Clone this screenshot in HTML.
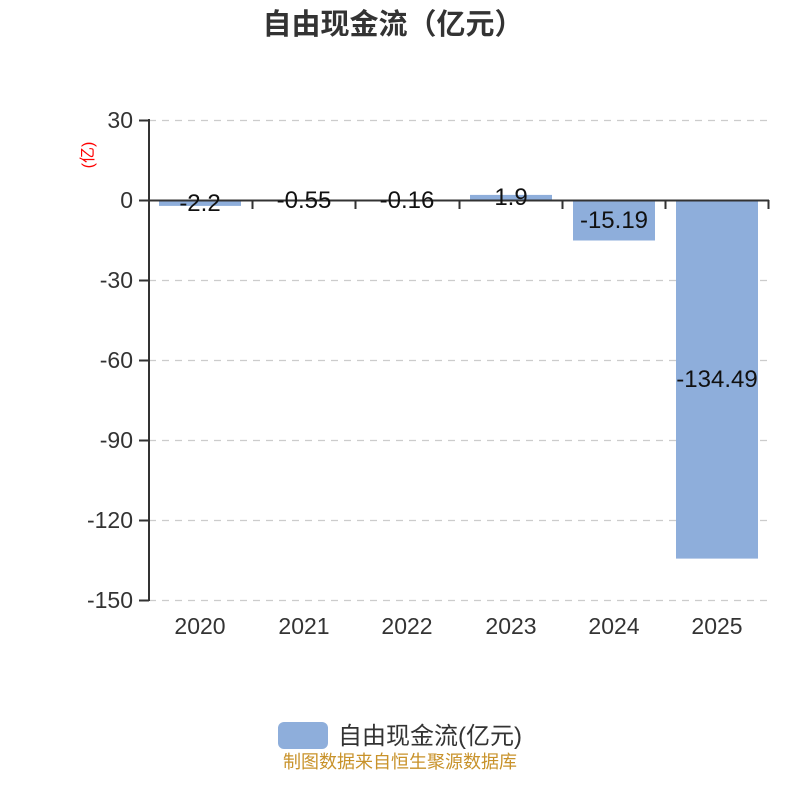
<!DOCTYPE html>
<html><head><meta charset="utf-8"><style>
body{margin:0;background:#fff}
svg text{font-family:"Liberation Sans","Noto Sans CJK SC",sans-serif}
</style></head><body>
<svg width="800" height="800" viewBox="0 0 800 800" xmlns="http://www.w3.org/2000/svg">
<text x="393" y="34" text-anchor="middle" font-size="29" font-weight="bold" fill="#333">自由现金流（亿元）</text>
<g stroke="#ccc" stroke-width="1.3" stroke-dasharray="7,6">
<line x1="149" y1="120.5" x2="769" y2="120.5"/>
<line x1="149" y1="280.5" x2="769" y2="280.5"/>
<line x1="149" y1="360.5" x2="769" y2="360.5"/>
<line x1="149" y1="440.5" x2="769" y2="440.5"/>
<line x1="149" y1="520.5" x2="769" y2="520.5"/>
<line x1="149" y1="600.5" x2="769" y2="600.5"/>
</g>
<g fill="#8eaedb">
<rect x="159" y="200" width="82" height="5.9"/>
<rect x="263" y="200" width="82" height="1.5"/>
<rect x="366" y="200" width="82" height="0.6"/>
<rect x="470" y="194.9" width="82" height="5.1"/>
<rect x="573" y="200" width="82" height="40.5"/>
<rect x="676" y="200" width="82" height="358.6"/>
</g>
<g stroke="#333" stroke-width="2" fill="none">
<line x1="149" y1="119" x2="149" y2="601"/>
<line x1="139" y1="120.5" x2="149" y2="120.5"/>
<line x1="139" y1="200.5" x2="149" y2="200.5"/>
<line x1="139" y1="280.5" x2="149" y2="280.5"/>
<line x1="139" y1="360.5" x2="149" y2="360.5"/>
<line x1="139" y1="440.5" x2="149" y2="440.5"/>
<line x1="139" y1="520.5" x2="149" y2="520.5"/>
<line x1="139" y1="600.5" x2="149" y2="600.5"/>
<line x1="149" y1="200.5" x2="769" y2="200.5"/>
<line x1="252.5" y1="200" x2="252.5" y2="209"/>
<line x1="355.5" y1="200" x2="355.5" y2="209"/>
<line x1="459.5" y1="200" x2="459.5" y2="209"/>
<line x1="562.5" y1="200" x2="562.5" y2="209"/>
<line x1="665.5" y1="200" x2="665.5" y2="209"/>
<line x1="768.5" y1="200" x2="768.5" y2="209"/>
</g>
<g font-size="23" fill="#333" text-anchor="end">
<text x="133" y="128">30</text>
<text x="133" y="208">0</text>
<text x="133" y="288">-30</text>
<text x="133" y="368">-60</text>
<text x="133" y="448">-90</text>
<text x="133" y="528">-120</text>
<text x="133" y="608">-150</text>
</g>
<text x="0" y="0" font-size="16" fill="#f00" text-anchor="middle" transform="translate(93,155) rotate(-90)">(亿)</text>
<g font-size="23" fill="#333" text-anchor="middle">
<text x="200" y="634">2020</text>
<text x="304" y="634">2021</text>
<text x="407" y="634">2022</text>
<text x="511" y="634">2023</text>
<text x="614" y="634">2024</text>
<text x="717" y="634">2025</text>
</g>
<g font-size="24" fill="#111" text-anchor="middle">
<text x="200" y="211">-2.2</text>
<text x="304" y="208">-0.55</text>
<text x="407" y="208">-0.16</text>
<text x="511" y="205">1.9</text>
<text x="614" y="228">-15.19</text>
<text x="717" y="387">-134.49</text>
</g>
<rect x="278" y="722" width="50" height="27" rx="6" fill="#8eaedb"/>
<text x="338" y="744" font-size="24" fill="#333">自由现金流(亿元)</text>
<text x="400" y="768" font-size="18" fill="#c8922a" text-anchor="middle">制图数据来自恒生聚源数据库</text>
</svg>
</body></html>
